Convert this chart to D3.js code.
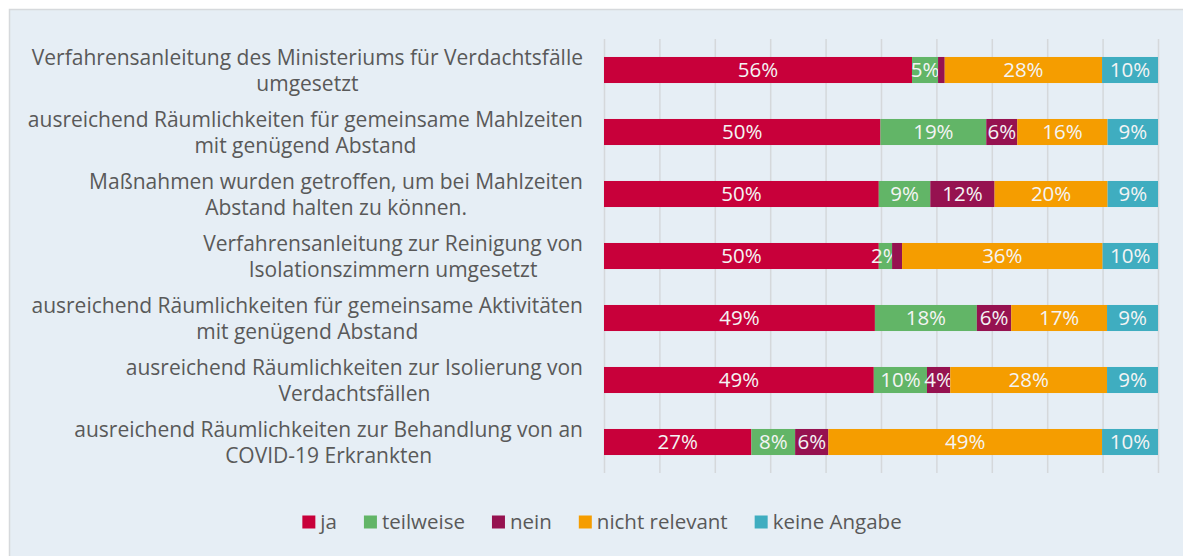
<!DOCTYPE html>
<html>
<head>
<meta charset="utf-8">
<script src="https://cdnjs.cloudflare.com/ajax/libs/d3/7.8.5/d3.min.js"></script>
<style>
  body { margin: 0; background: #fff; }
  svg text { font-family: "Open Sans", Lato, sans-serif; }
</style>
</head>
<body>
<div id="chart"></div>
<script>
var categories = [
  ["Verfahrensanleitung des Ministeriums für Verdachtsfälle", "umgesetzt"],
  ["ausreichend Räumlichkeiten für gemeinsame Mahlzeiten", "mit genügend Abstand"],
  ["Maßnahmen wurden getroffen, um bei Mahlzeiten", "Abstand halten zu können."],
  ["Verfahrensanleitung zur Reinigung von", "Isolationszimmern umgesetzt"],
  ["ausreichend Räumlichkeiten für gemeinsame Aktivitäten", "mit genügend Abstand"],
  ["ausreichend Räumlichkeiten zur Isolierung von", "Verdachtsfällen"],
  ["ausreichend Räumlichkeiten zur Behandlung von an", "COVID-19 Erkrankten"]
];
var seriesNames = ["ja", "teilweise", "nein", "nicht relevant", "keine Angabe"];
var colors = ["#c8003a", "#62b567", "#961250", "#f59d00", "#3fadc0"];

// percent per category, in series order
var ja            = [55.6, 49.9, 49.6, 49.6, 48.9, 48.7, 26.6];
var teilweise     = [4.7, 19.1, 9.3, 2.4, 18.4, 9.6, 7.9];
var nein          = [1.2, 5.6, 11.6, 1.8, 6.2, 4.2, 6.0];
var nichtRelevant = [28.4, 16.3, 20.4, 36.2, 17.3, 28.3, 49.4];
var keineAngabe   = [10.1, 9.1, 9.1, 10.0, 9.2, 9.2, 10.1];
var xTicks = [0, 10, 20, 30, 40, 50, 60, 70, 80, 90, 100];

var width = 1183, height = 556;
var series = [ja, teilweise, nein, nichtRelevant, keineAngabe];

var rows = categories.map(function(c, i) {
  var r = {idx: i};
  seriesNames.forEach(function(s, j) { r[s] = series[j][i]; });
  return r;
});

var svg = d3.select("#chart").append("svg")
    .attr("width", width)
    .attr("height", height);

// chart area background
svg.append("rect")
    .attr("x", 9.5).attr("y", 9.5)
    .attr("width", width).attr("height", height)
    .attr("fill", "#e6eef5")
    .attr("stroke", "#d6d9dc")
    .attr("stroke-width", 1.5);

var x = d3.scaleLinear().domain([0, 100]).range([604, 1158]);
var y = d3.scaleBand()
    .domain(d3.range(categories.length))
    .range([39, 473])
    .paddingInner(0.58)
    .paddingOuter(0.29);

// gridlines
var grid = svg.append("g")
    .attr("transform", "translate(0,473)")
    .call(d3.axisBottom(x).tickValues(xTicks).tickSize(-434).tickFormat(""));
grid.select(".domain").remove();
grid.selectAll("line").attr("stroke", "#d5d8db").attr("stroke-width", 1.5);

var stack = d3.stack().keys(seriesNames)(rows);

var layers = svg.selectAll(".layer")
    .data(stack)
    .enter().append("g")
    .attr("class", "layer")
    .attr("fill", function(d, i) { return colors[i]; });

layers.selectAll("rect")
    .data(function(d) { return d; })
    .enter().append("rect")
    .attr("x", function(d) { return x(d[0]); })
    .attr("width", function(d) { return x(d[1]) - x(d[0]); })
    .attr("y", function(d) { return y(d.data.idx); })
    .attr("height", y.bandwidth());

// value labels
layers.selectAll("text")
    .data(function(d) { return d.filter(function(p) { return p[1] - p[0] >= 2; }); })
    .enter().append("text")
    .attr("x", function(d) { return (x(d[0]) + x(d[1])) / 2; })
    .attr("y", function(d) { return y(d.data.idx) + y.bandwidth() / 2; })
    .attr("dy", "0.36em")
    .attr("text-anchor", "middle")
    .attr("fill", "#f4f4f4")
    .style("font-size", "20.5px")
    .text(function(d) { return d3.format(".0f")(d[1] - d[0]) + "%"; });

// category labels: right aligned block, centered lines
var labels = svg.append("g");
categories.forEach(function(lines, i) {
  var g = labels.append("g");
  var cy = y(i) + y.bandwidth() / 2;
  var texts = lines.map(function(t, k) {
    return g.append("text")
        .attr("y", cy + (k - (lines.length - 1) / 2) * 26)
        .attr("dy", "0.36em")
        .attr("text-anchor", "middle")
        .attr("fill", "#595959")
        .style("font-size", "21px")
        .text(t);
  });
  var w = d3.max(texts, function(t) { return t.node().getComputedTextLength(); });
  texts.forEach(function(t) { t.attr("x", 583 - w / 2); });
});

// legend
var legend = svg.append("g");
var lx = 0;
seriesNames.forEach(function(s, i) {
  var item = legend.append("g").attr("transform", "translate(" + lx + ",0)");
  item.append("rect")
      .attr("x", 0).attr("y", -6.5)
      .attr("width", 13).attr("height", 13)
      .attr("fill", colors[i]);
  var t = item.append("text")
      .attr("x", 18)
      .attr("dy", "0.36em")
      .attr("fill", "#595959")
      .style("font-size", "20.5px")
      .text(s);
  lx += 18 + t.node().getComputedTextLength() + 27;
});
lx -= 27;
legend.attr("transform", "translate(" + (602 - lx / 2) + ",522)");
</script>
</body>
</html>
